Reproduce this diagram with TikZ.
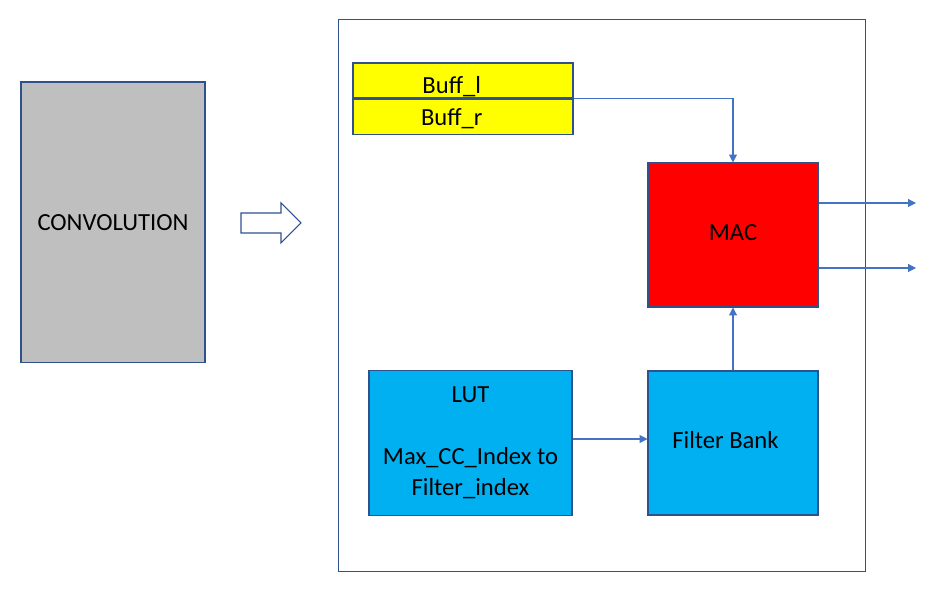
\documentclass[tikz,border=0pt]{standalone}
\usepackage{fontspec}
\setmainfont{Carlito}
\usetikzlibrary{positioning, arrows.meta, calc}
\definecolor{edgeblue}{RGB}{47, 82, 143}
\definecolor{wireblue}{RGB}{68, 114, 196}
\definecolor{convgray}{RGB}{191, 191, 191}
\definecolor{lutcyan}{RGB}{0, 176, 240}
\definecolor{buffyellow}{RGB}{255, 255, 0}
\newcommand{\nudge}[2]{\raisebox{#1}[\height][\depth]{#2}}

\begin{document}
\begin{tikzpicture}[
    x=0.02cm, y=0.02cm,
    block/.style={rectangle, draw=edgeblue, line width=0.6pt, inner sep=0pt, align=center, font=\fontsize{14}{17.6}\selectfont},
    buffer/.style={block, fill=buffyellow, minimum width=4.4cm, minimum height=0.7cm},
    unit/.style={block, minimum width=3.4cm, minimum height=2.88cm},
    wire/.style={draw=wireblue, line width=0.6pt, -{Triangle[length=4.5pt, width=4.5pt]}}
]
\useasboundingbox (0,0) rectangle (943,604);

\node (conv) [block, fill=convgray, minimum width=3.68cm, minimum height=5.62cm] at (113,381.5) {CONVOLUTION};
\node (dsp) [block, fill=white, minimum width=10.56cm, minimum height=11.06cm] at (602,308.5) {};

% hollow arrow from the convolution block to its inner view
\draw [edgeblue, line width=0.6pt, fill=white] (241,371) -- (281,371) -- (281,361) -- (301,381) -- (281,401) -- (281,391) -- (241,391) -- cycle;

\node (buffl) [buffer] at (463,523.5) {\nudge{-3.4pt}{Buff\_l}\hspace{0.45cm}};
\node (buffr) [buffer, below=0pt of buffl] {\nudge{-1pt}{Buff\_r}\hspace{0.45cm}};
\node (mac) [unit, fill=red] at (733,369) {\nudge{1.5pt}{MAC}};
\node (fb) [unit, fill=lutcyan, below=1.26cm of mac] {\nudge{1.5pt}{Filter Bank}\hspace{0.3cm}};
\node (lut) [block, fill=lutcyan, minimum width=4.06cm, minimum height=2.9cm, left=1.5cm of fb] {LUT\\[17.6pt]Max\_CC\_Index to\\Filter\_index};

\coordinate (out1) at (916,401);
\coordinate (out2) at (916,336);

\draw [wire] (buffl.south east) -| (mac.north);
\draw [wire] (mac.east |- out1) -- (out1);
\draw [wire] (mac.east |- out2) -- (out2);
\draw [wire] (fb.north) -- (mac.south);
\draw [wire] ([yshift=0.08cm]lut.east |- fb.west) -- ([yshift=0.08cm]fb.west);

\end{tikzpicture}
\end{document}
